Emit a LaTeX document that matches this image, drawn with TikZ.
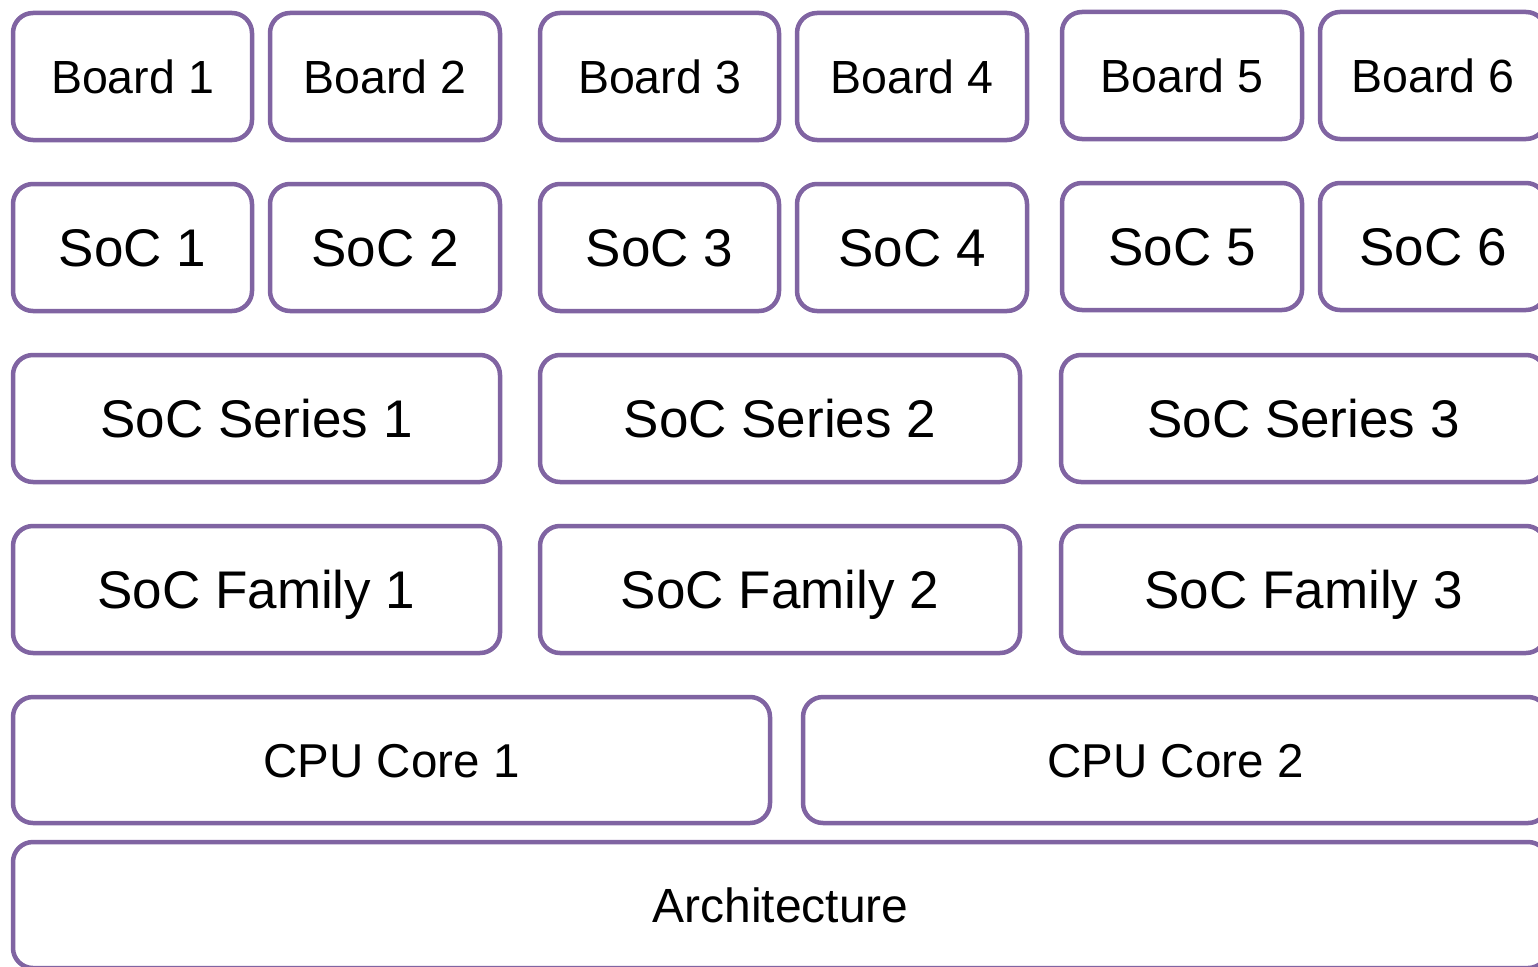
\documentclass[tikz,border=0pt]{standalone}
\usepackage{fontspec}
\setmainfont{Liberation Sans}
\definecolor{layerline}{RGB}{128,100,162}
\tikzset{
  layer/.style={draw=layerline, line width=4.5pt, rounded corners=20pt,
    rectangle, fill=white, inner sep=0pt, text depth=0pt},
  fs/.style={font=\fontsize{#1}{#1}\selectfont, text height=0.716*#1pt},
}
\begin{document}
\begin{tikzpicture}[x=1pt,y=-1pt]
\useasboundingbox (0,0) rectangle (1538,966);
\clip (0,0) rectangle (1538,966);
\fill[white] (0,0) rectangle (1538,966);

% boards
\node[layer,fs=46.5,minimum width=239pt,minimum height=127pt] (b1) at (132.5,76.5) {Board 1};
\node[layer,fs=46.5,minimum width=230pt,minimum height=127pt] (b2) at (385,76.5) {Board 2};
\node[layer,fs=46.5,minimum width=239pt,minimum height=127pt] (b3) at (659.5,76.5) {Board 3};
\node[layer,fs=46.5,minimum width=230pt,minimum height=127pt] (b4) at (912,76.5) {Board 4};
\node[layer,fs=46.5,minimum width=240pt,minimum height=127pt] (b5) at (1182,75.5) {Board 5};
\node[layer,fs=46.5,minimum width=226pt,minimum height=127pt] (b6) at (1433,75.5) {Board 6};

% SoCs
\node[layer,fs=53,minimum width=239pt,minimum height=127pt] (s1) at (132.5,247.5) {SoC 1};
\node[layer,fs=53,minimum width=230pt,minimum height=127pt] (s2) at (385,247.5) {SoC 2};
\node[layer,fs=53,minimum width=239pt,minimum height=127pt] (s3) at (659.5,247.5) {SoC 3};
\node[layer,fs=53,minimum width=230pt,minimum height=127pt] (s4) at (912,247.5) {SoC 4};
\node[layer,fs=53,minimum width=240pt,minimum height=127pt] (s5) at (1182,246.5) {SoC 5};
\node[layer,fs=53,minimum width=226pt,minimum height=127pt] (s6) at (1433,246.5) {SoC 6};

% SoC series
\node[layer,fs=53,minimum width=487pt,minimum height=127pt] (ser1) at (256.5,418.5) {SoC Series 1};
\node[layer,fs=53,minimum width=480pt,minimum height=127pt] (ser2) at (780,418.5) {SoC Series 2};
\node[layer,fs=53,minimum width=485pt,minimum height=127pt] (ser3) at (1303.5,418.5) {SoC Series 3};

% SoC families
\node[layer,fs=53,minimum width=487pt,minimum height=127pt] (fam1) at (256.5,589.5) {SoC Family 1};
\node[layer,fs=53,minimum width=480pt,minimum height=127pt] (fam2) at (780,589.5) {SoC Family 2};
\node[layer,fs=53,minimum width=485pt,minimum height=127pt] (fam3) at (1303.5,589.5) {SoC Family 3};

% CPU cores
\node[layer,fs=47.5,minimum width=757pt,minimum height=126pt] (cpu1) at (391.5,760) {CPU Core 1};
\node[layer,fs=47.5,minimum width=745pt,minimum height=126pt] (cpu2) at (1175.5,760) {CPU Core 2};

% architecture
\node[layer,fs=48,minimum width=1535pt,minimum height=126pt] (arch) at (780.5,905) {Architecture};
\end{tikzpicture}
\end{document}
